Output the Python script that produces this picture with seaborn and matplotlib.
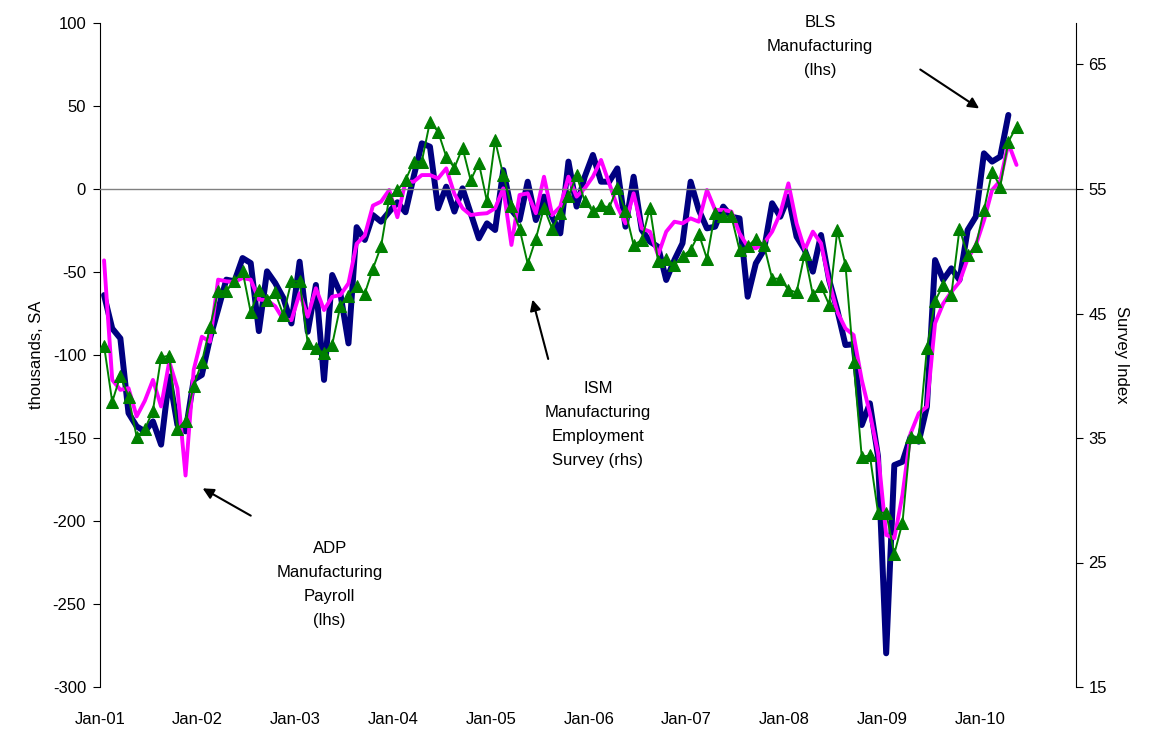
import numpy as np
import pandas as pd
import seaborn as sns
import matplotlib
matplotlib.use("Agg")
import matplotlib.pyplot as plt

# monthly series, Jan 2001 onwards (index 0 = Jan-01)
adp = [-43.0, -115.0, -121.0, -120.0, -137.0, -127.6, -115.0, -131.0, -104.0, -120.0,
       -172.6, -109.0, -89.0, -92.0, -54.6, -55.6, -56.0, -53.6, -54.6, -66.6,
       -67.0, -70.6, -78.6, -79.0, -62.8, -76.9, -59.8, -72.9, -64.9, -63.9,
       -56.8, -33.0, -28.0, -10.0, -7.6, -0.6, -17.0, 4.4, 4.4, 8.4,
       8.4, 6.4, 12.4, -3.0, -11.6, -15.7, -15.0, -14.6, -11.6, 0.4,
       -33.7, -3.6, -2.6, -14.6, 7.4, -15.7, -10.6, 7.4, -4.6, 0.4,
       7.4, 17.5, 3.4, -10.6, -20.7, -2.6, -23.7, -25.7, -39.8, -25.7,
       -19.7, -20.7, -17.7, -19.7, -0.6, -12.6, -12.6, -13.6, -26.7, -34.7,
       -35.7, -32.7, -25.7, -14.6, 3.4, -20.7, -36.7, -25.7, -32.7, -56.0,
       -74.0, -84.0, -88.0, -115.0, -135.1, -159.2, -208.4, -210.4, -184.3, -147.2,
       -135.1, -131.1, -80.9, -69.0, -62.0, -56.0, -42.0, -34.0, -19.0, -0.6,
       5.0, 27.5, 14.5]

bls = [-63.9, -84.0, -90.0, -135.0, -143.0, -146.0, -140.0, -154.0, -113.0, -142.0,
       -146.0, -115.0, -112.0, -90.0, -72.6, -54.6, -55.6, -41.6, -44.6, -85.6,
       -49.6, -56.6, -65.6, -81.0, -43.8, -86.0, -57.8, -115.0, -51.8, -62.8,
       -93.0, -23.0, -30.7, -15.7, -19.7, -13.7, -8.0, -14.0, 7.4, 27.5,
       25.5, -11.6, 1.4, -13.6, 0.4, -14.6, -29.7, -20.7, -24.7, 11.4,
       -12.6, -18.7, 4.4, -18.7, -4.6, -16.7, -26.7, 16.5, -10.6, 7.4,
       20.5, 4.4, 4.4, 12.4, -22.7, 7.4, -24.7, -31.7, -34.8, -54.8,
       -42.8, -32.7, 4.4, -12.6, -23.7, -22.7, -10.6, -16.7, -17.7, -64.9,
       -44.8, -36.7, -8.6, -16.7, -4.6, -28.7, -36.7, -49.8, -27.7, -54.8,
       -72.9, -94.0, -93.5, -142.2, -129.1, -161.2, -279.7, -166.3, -164.3, -149.2,
       -152.2, -131.1, -42.8, -54.8, -47.8, -54.8, -24.7, -16.7, 21.5, 16.5,
       19.5, 44.6]

ism = [42.4, 37.9, 40.0, 38.3, 35.1, 35.7, 37.2, 41.5, 41.6, 35.7,
       36.4, 39.2, 41.1, 43.9, 46.8, 46.8, 47.6, 48.4, 45.1, 46.9,
       46.1, 46.7, 44.9, 47.6, 47.6, 42.6, 42.2, 41.8, 42.5, 45.6,
       46.4, 47.2, 46.6, 48.6, 50.4, 54.3, 54.9, 55.7, 57.2, 57.2,
       60.4, 59.6, 57.6, 56.7, 58.3, 55.7, 57.1, 54.0, 58.9, 56.1,
       53.6, 51.8, 49.0, 51.0, 53.5, 51.8, 53.1, 54.4, 56.1, 54.0,
       53.2, 53.7, 53.5, 55.1, 53.2, 50.5, 50.9, 53.5, 49.2, 49.4,
       48.9, 49.6, 50.1, 51.4, 49.4, 53.1, 52.8, 52.8, 50.1, 50.4,
       51.0, 50.5, 47.8, 47.8, 46.9, 46.7, 49.8, 46.5, 47.2, 45.7,
       51.7, 48.9, 41.1, 33.5, 33.6, 29.0, 29.0, 25.7, 28.2, 35.1,
       35.1, 42.2, 46.0, 47.3, 46.5, 51.8, 49.7, 50.4, 53.3, 56.4,
       55.2, 58.8, 60.0]

year_labels = ['Jan-01', 'Jan-02', 'Jan-03', 'Jan-04', 'Jan-05',
               'Jan-06', 'Jan-07', 'Jan-08', 'Jan-09', 'Jan-10']

df_l = pd.DataFrame({'m': np.arange(len(adp)), 'adp': adp})
df_b = pd.DataFrame({'m': np.arange(len(bls)), 'bls': bls})
df_i = pd.DataFrame({'m': np.arange(len(ism)), 'ism': ism})

sns.set_style("white")
plt.rcParams['font.family'] = ['Liberation Sans', 'DejaVu Sans']
plt.rcParams['font.size'] = 12
plt.rcParams['axes.unicode_minus'] = False
for k in ['text.color', 'axes.labelcolor', 'xtick.color', 'ytick.color']:
    plt.rcParams[k] = 'black'

fig = plt.figure(figsize=(11.49, 7.3), dpi=100)
ax = fig.add_axes([100/1149, 1-687/730, 976/1149, 664/730])

sns.lineplot(data=df_b, x='m', y='bls', ax=ax, color='#000080', linewidth=4.3)
sns.lineplot(data=df_l, x='m', y='adp', ax=ax, color='#FF00FF', linewidth=2.8)

ax.set_xlim(-0.5, 119.3)
ax.set_ylim(-300, 100)
ax.set_yticks(np.arange(-300, 101, 50))
ax.set_ylabel('thousands, SA', fontsize=12, labelpad=6)
ax.set_xlabel('')

# x axis sits on the zero line, labels at the bottom
ax.spines['bottom'].set_position(('data', 0))
ax.spines['bottom'].set_color('#808080')
ax.spines['bottom'].set_linewidth(1.0)
ax.spines['top'].set_visible(False)
ax.spines['left'].set_color('black')
ax.spines['right'].set_visible(False)
year_ticks = np.arange(len(year_labels)) * 12 - 0.5
ax.set_xticks(year_ticks)
ax.tick_params(axis='x', direction='out', length=5, color='#808080', labelbottom=False)
ax.tick_params(axis='y', direction='out', length=5, color='black', left=True, pad=5, labelsize=12)

sec = ax.secondary_xaxis(0.0)
sec.set_xticks(year_ticks, year_labels)
sec.tick_params(length=0, pad=18, labelsize=12)
sec.spines['bottom'].set_visible(False)

ax2 = ax.twinx()
sns.lineplot(data=df_i, x='m', y='ism', ax=ax2, color='#008000', linewidth=1.4,
             marker='^', markersize=9, markeredgecolor='#008000')
ax2.set_ylim(15, 55 + 100 / 7.5)
ax2.set_yticks(np.arange(15, 66, 10))
ax2.set_ylabel('Survey Index', rotation=270, fontsize=12, labelpad=16)
ax2.set_xlabel('')
for s in ['top', 'bottom', 'left']:
    ax2.spines[s].set_visible(False)
ax2.spines['right'].set_color('black')
ax2.tick_params(axis='y', direction='out', length=5, color='black', right=True, pad=4, labelsize=12)

arrow = dict(arrowstyle='-|>', color='black', lw=1.5, mutation_scale=16)
ax.annotate('', xy=(107.7, 47.6), xytext=(99.9, 72.9), arrowprops=arrow)
ax.text(87.9, 86, 'BLS\nManufacturing\n(lhs)', ha='center', va='center',
        fontsize=12, linespacing=1.75)
ax.annotate('', xy=(52.5, -65), xytext=(54.6, -104), arrowprops=arrow)
ax.text(60.6, -142, 'ISM\nManufacturing\nEmployment\nSurvey (rhs)', ha='center',
        va='center', fontsize=12, linespacing=1.75)
ax.annotate('', xy=(11.8, -179.5), xytext=(18.3, -197.6), arrowprops=arrow)
ax.text(27.7, -238, 'ADP\nManufacturing\nPayroll\n(lhs)', ha='center', va='center',
        fontsize=12, linespacing=1.75)

fig.savefig('out.png', dpi=100)
